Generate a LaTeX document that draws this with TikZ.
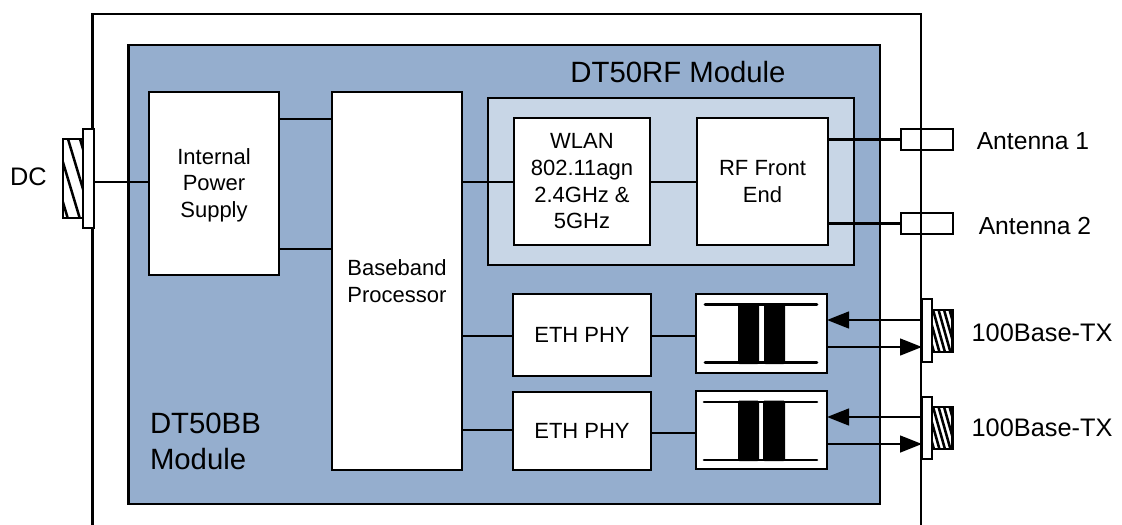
\documentclass[tikz,border=0pt]{standalone}
\usepackage{fontspec}
\setmainfont{Liberation Sans}
\usetikzlibrary{arrows.meta}
\definecolor{bbblue}{HTML}{95AECE}
\definecolor{rfblue}{HTML}{C8D6E6}
\tikzset{
  x=0.75pt,y=-0.75pt,
  ln/.style={line width=1.9pt,black},
  box/.style={draw=black,line width=1.9pt,fill=white,inner sep=0pt,outer sep=0pt,align=center,font=\fontsize{16.5}{20}\selectfont},
  lbl/.style={inner sep=0pt,outer sep=0pt,align=left},
  arr/.style={ln,-{Triangle[length=16.5pt,width=12.5pt]}},
  hatchln/.style={line width=1.9pt,black},
}
\newcommand{\mybox}[7]{% name, x1,y1,x2,y2,text,extra
  \pgfmathsetmacro{\bw}{(#4-#2)*0.75}\pgfmathsetmacro{\bh}{(#5-#3)*0.75}
  \node[box,minimum width=\bw pt,minimum height=\bh pt,#7] (#1) at ({(#2+#4)/2},{(#3+#5)/2}) {#6};}
\begin{document}
\begin{tikzpicture}
\useasboundingbox (0,0) rectangle (1122,525);
% Outer enclosure (open at the bottom)
\coordinate (obl) at (92.5,525);
\coordinate (otl) at (92.5,14);
\coordinate (otr) at (921,14);
\coordinate (obr) at (921,525);
\draw[ln] (obl) -- (otl) -- (otr) -- (obr);
% Module areas
\mybox{bb}{128.5}{45}{880}{504}{}{fill=bbblue}
\mybox{rf}{488}{98}{854}{265}{}{fill=rfblue}
% Function blocks
\mybox{ps}{149}{92}{279}{275}{}{}
\node[lbl,align=center,font=\fontsize{16.5}{20}\selectfont] (pst) at (214,185) {Internal\\Power\\Supply};
\mybox{bp}{332}{92}{462}{470}{Baseband\\Processor}{}
\mybox{wlan}{514}{118}{650}{245}{WLAN\\802.11agn\\2.4GHz \&\\5GHz}{}
\mybox{fe}{697}{118}{828}{245}{RF Front\\End}{}
\mybox{ph1}{513}{294}{651}{376}{ETH PHY}{}
\mybox{ph2}{513}{392}{651}{470}{ETH PHY}{}
\mybox{tr1}{696}{294}{827}{373}{}{}
\mybox{tr2}{696}{391}{827}{469}{}{}
% Transformer 1
\draw[ln,line cap=round] (705,304.5) -- (817,304.5) (705,362.5) -- (817,362.5);
\fill[black,rounded corners=1pt] (738,303) rectangle (759,364) (764,303) rectangle (785,364);
% Transformer 2
\draw[ln,line cap=round] (704,402) -- (817,402) (704,460) -- (817,460);
\fill[black,rounded corners=1pt] (738,400.5) rectangle (759,461) (763,400.5) rectangle (785,461);
% Level coordinates
\coordinate (y1) at (0,119); \coordinate (y2) at (0,249);
\coordinate (y3) at (0,182); \coordinate (y4) at (0,336);
\coordinate (y5) at (0,430); \coordinate (y6) at (0,433);
\coordinate (ya1) at (0,139.5); \coordinate (ya2) at (0,223.5);
\coordinate (ye1) at (0,320); \coordinate (ye2) at (0,347);
\coordinate (ye3) at (0,417); \coordinate (ye4) at (0,444);
% Internal connectors
\draw[ln] (ps.east |- y1) -- (bp.west |- y1);
\draw[ln] (ps.east |- y2) -- (bp.west |- y2);
\draw[ln] (bp.east |- y3) -- (wlan.west |- y3);
\draw[ln] (wlan.east |- y3) -- (fe.west |- y3);
\draw[ln] (bp.east |- y4) -- (ph1.west |- y4);
\draw[ln] (bp.east |- y5) -- (ph2.west |- y5);
\draw[ln] (ph1.east |- y4) -- (tr1.west |- y4);
\draw[ln] (ph2.east |- y6) -- (tr2.west |- y6);
% DC connector
\begin{scope}
\clip (62,139) rectangle (84,218);
\foreach \s in {44,56,68,80}
  \draw[hatchln] (\s,139) -- ({\s+24},219);
\end{scope}
\draw[ln] (84,139) -- (63,139) -- (63,218) -- (84,218);
\mybox{dcf}{83}{129}{94}{228}{}{}
\draw[ln] (dcf.east |- y3) -- (ps.west |- y3);
% Ethernet connectors
\foreach \n/\a/\b/\c/\d in {1/299/362/310/352,2/397/459/407/449}{
  \begin{scope}
  \clip (932,\c) rectangle (953,\d);
  \foreach \s in {-16,-10.5,...,24}
    \draw[line width=1.9pt] ({932+\s},{\c-2}) -- ({932+\s+13},{\d+2});
  \end{scope}
  \draw[ln] (932,\c) -- (952.5,\c) -- (952.5,\d) -- (932,\d);
  \mybox{ef\n}{922}{\a}{932}{\b}{}{}
}
\draw[arr] (ef1.west |- ye1) -- (tr1.east |- ye1);
\draw[arr] (tr1.east |- ye2) -- (ef1.west |- ye2);
\draw[arr] (ef2.west |- ye3) -- (tr2.east |- ye3);
\draw[arr] (tr2.east |- ye4) -- (ef2.west |- ye4);
% Antennas
\mybox{a1}{901}{129}{953}{150}{}{fill=none}
\mybox{a2}{901}{213}{953}{234}{}{fill=none}
\draw[ln] (fe.east |- ya1) -- (a1.west |- ya1);
\draw[ln] (fe.east |- ya2) -- (a2.west |- ya2);
% Labels
\node[lbl,font=\fontsize{22}{26}\selectfont,anchor=center] (t1) at (678,72) {DT50RF Module};
\node[lbl,font=\fontsize{22}{27}\selectfont,anchor=north west] (t2) at (150,413) {DT50BB\\Module};
\node[lbl,font=\fontsize{19}{22}\selectfont,anchor=center] (t3) at (28.5,177) {DC};
\node[lbl,font=\fontsize{18.5}{22}\selectfont,anchor=center] (t4) at (1033,141) {Antenna 1};
\node[lbl,font=\fontsize{18.5}{22}\selectfont,anchor=center] (t5) at (1035,226) {Antenna 2};
\node[lbl,font=\fontsize{19}{22}\selectfont,anchor=center] (t6) at (1042,333) {100Base-TX};
\node[lbl,font=\fontsize{19}{22}\selectfont,anchor=center] (t7) at (1042,428) {100Base-TX};
\end{tikzpicture}
\end{document}
